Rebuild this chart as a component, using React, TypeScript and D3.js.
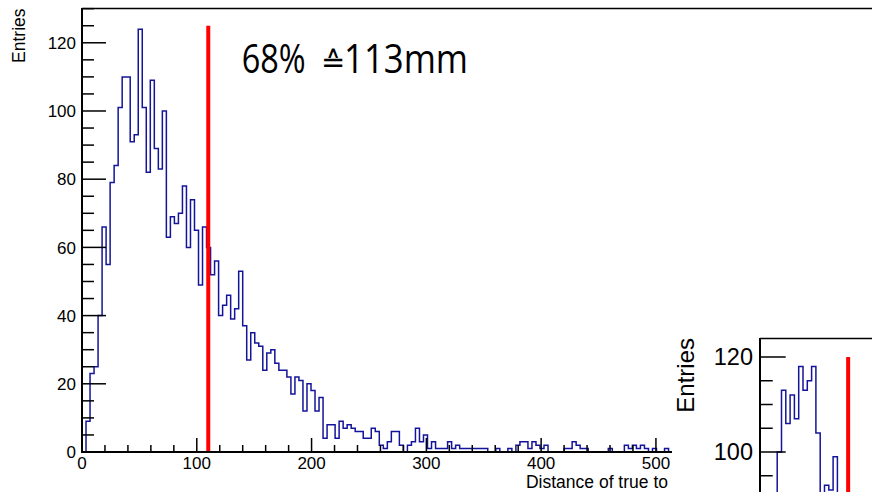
import React from "react";
import * as d3 from "d3";

// Main histogram: bin width 3.5 mm, starting at 0
const binWidth = 3.5;
const counts: number[] = [
  0, 9, 23, 25, 40, 66, 55, 79, 84, 101,
  110, 110, 91, 93, 124, 101, 82, 109, 89, 83,
  100, 63, 69, 67, 70, 78, 60, 74, 65, 49,
  66, 60, 52, 56, 40, 43, 46, 39, 42, 53,
  37, 27, 35, 32, 31, 24, 29, 30, 26, 24,
  24, 22, 17, 22, 21, 12, 20, 18, 12, 16,
  4, 8, 8, 4, 9, 7, 8, 7, 6, 6,
  4, 4, 7, 6, 2, 1, 3, 6, 6, 2,
  0, 2, 3, 7, 3, 5, 1, 3, 1, 1,
  1, 3, 1, 2, 1, 1, 1, 1, 1, 1,
  1, 0, 0, 1, 0, 0, 1, 0, 2, 3,
  3, 1, 3, 2, 1, 2, 0, 0, 0, 0,
  1, 1, 3, 2, 1, 1, 0, 0, 0, 0,
  0, 1, 0, 0, 0, 2, 1, 2, 1, 2,
  1, 0, 1, 0, 0, 1, 0,
];
const quantileValue = 110;
const quantileTop = 125;
const annotationLeft = "68%";
const annotationSymbol = "\u2259";
const annotationRight = "113mm";
const xTicksMajor = [0, 100, 200, 300, 400, 500];
const yTicksMajor = [0, 20, 40, 60, 80, 100, 120];
const xTitle = "Distance of true to";
const yTitle = "Entries";

// Inset (second pad, partially visible)
const insetCounts: number[] = [
  70, 78, 84, 88, 100, 113, 106, 112, 107, 118,
  113, 115, 118, 104, 86, 93, 92, 99, 86, 80,
  75, 70, 68, 65, 60, 58,
];
const insetLineBin = 20.5;
const insetLineTop = 120;
const insetYTicksMajor = [100, 120];

const FONT = "'Liberation Sans', Arial, Helvetica, sans-serif";
const BLUE = "#14149a";

export default function App() {
  const W = 872, H = 492;
  const x = d3.scaleLinear().domain([0, 514]).range([82, 672]);
  const y = d3.scaleLinear().domain([0, 130.2]).range([452, 8]);

  const pts: [number, number][] = [[x(0), y(0)]];
  counts.forEach((v, i) => {
    pts.push([x(i * binWidth), y(v)]);
    pts.push([x((i + 1) * binWidth), y(v)]);
  });
  pts.push([x(counts.length * binWidth), y(0)]);
  const histPath = d3.line()(pts) as string;

  const yMinor = d3.range(0, 130.01, 5);
  const xMinor = d3.range(0, 514, 20);

  // inset scales
  const ix = d3.scaleLinear().domain([0, insetCounts.length]).range([760, 760 + insetCounts.length * 4.3]);
  const iy = d3.scaleLinear().domain([100, 120]).range([452, 357]);
  const ipts: [number, number][] = [];
  insetCounts.forEach((v, i) => {
    ipts.push([ix(i), iy(v)]);
    ipts.push([ix(i + 1), iy(v)]);
  });
  const insetPath = d3.line()(ipts) as string;
  const iMinor = d3.range(85, 125.01, 5);

  const AFONT = "'Open Sans', 'DejaVu Sans', sans-serif";

  return (
    <svg width={W} height={H} style={{ position: "absolute", left: 0, top: 0, background: "#fff" }}>
      <defs>
        <clipPath id="mainclip">
          <rect x={82} y={8} width={590} height={444} />
        </clipPath>
        <clipPath id="insetclip">
          <rect x={760} y={338} width={112} height={154} />
        </clipPath>
      </defs>
      <rect x={0} y={0} width={W} height={H} fill="#fff" />

      {/* histogram */}
      <path d={histPath} fill="none" stroke={BLUE} strokeWidth={1.5} clipPath="url(#mainclip)" />

      {/* red quantile line */}
      <line x1={x(quantileValue)} x2={x(quantileValue)} y1={y(0)} y2={y(quantileTop)} stroke="#ff0000" strokeWidth={4} />

      {/* frame */}
      <line x1={82} x2={872} y1={8.5} y2={8.5} stroke="#000" strokeWidth={1.6} />
      <line x1={82} x2={82} y1={8} y2={452} stroke="#000" strokeWidth={2} />
      <line x1={81} x2={672} y1={452} y2={452} stroke="#000" strokeWidth={2} />

      {/* y ticks */}
      {yMinor.map((v) => (
        <line key={"ym" + v} x1={82} x2={yTicksMajor.includes(v) ? 106 : 94} y1={y(v)} y2={y(v)} stroke="#000" strokeWidth={1.5} />
      ))}
      {yTicksMajor.map((v) => (
        <text key={"yl" + v} x={76} y={y(v)} dy="0.36em" textAnchor="end" fontFamily={FONT} fontSize={17} fill="#000">
          {v}
        </text>
      ))}
      {/* x ticks */}
      {xMinor.map((v) => (
        <line key={"xm" + v} x1={x(v)} x2={x(v)} y1={452} y2={xTicksMajor.includes(v) ? 438 : 445} stroke="#000" strokeWidth={1.5} />
      ))}
      {xTicksMajor.map((v) => (
        <text key={"xl" + v} x={x(v)} y={468.5} textAnchor="middle" fontFamily={FONT} fontSize={17} fill="#000">
          {v}
        </text>
      ))}
      <text x={668} y={488} textAnchor="end" fontFamily={FONT} fontSize={17.5} fill="#000">
        {xTitle}
      </text>
      <text transform="translate(25,8.5) rotate(-90)" textAnchor="end" fontFamily={FONT} fontSize={17.5} fill="#000">
        {yTitle}
      </text>

      {/* annotation */}
      <text x={241.7} y={73.3} fontFamily={AFONT} fontSize={41} fill="#000" textLength={64} lengthAdjust="spacingAndGlyphs">
        {annotationLeft}
      </text>
      <text y={73.3} fill="#000">
        <tspan x={321} y={71.5} fontFamily="'DejaVu Sans', sans-serif" fontSize={29}>
          {annotationSymbol}
        </tspan>
        <tspan x={344} y={73.3} fontFamily={AFONT} fontSize={41} textLength={124} lengthAdjust="spacingAndGlyphs">
          {annotationRight}
        </tspan>
      </text>

      {/* inset pad */}
      <rect x={672} y={250} width={200} height={242} fill="#fff" />
      <path d={insetPath} fill="none" stroke={BLUE} strokeWidth={1.5} clipPath="url(#insetclip)" />
      <line x1={ix(insetLineBin)} x2={ix(insetLineBin)} y1={iy(insetLineTop)} y2={H} stroke="#ff0000" strokeWidth={4} />
      <line x1={760} x2={872} y1={338.5} y2={338.5} stroke="#000" strokeWidth={1.6} />
      <line x1={760} x2={760} y1={338} y2={H} stroke="#000" strokeWidth={2} />
      {iMinor.filter((v) => iy(v) > 339 && iy(v) < H).map((v) => (
        <line key={"im" + v} x1={760} x2={insetYTicksMajor.includes(v) ? 785.7 : 772.7} y1={iy(v)} y2={iy(v)} stroke="#000" strokeWidth={1.5} />
      ))}
      {insetYTicksMajor.map((v) => (
        <text key={"il" + v} x={753} y={iy(v)} dy="0.36em" textAnchor="end" fontFamily={FONT} fontSize={23.5} fill="#000">
          {v}
        </text>
      ))}
      <text transform="translate(694,338) rotate(-90)" textAnchor="end" fontFamily={FONT} fontSize={24} fill="#000">
        {yTitle}
      </text>
    </svg>
  );
}
